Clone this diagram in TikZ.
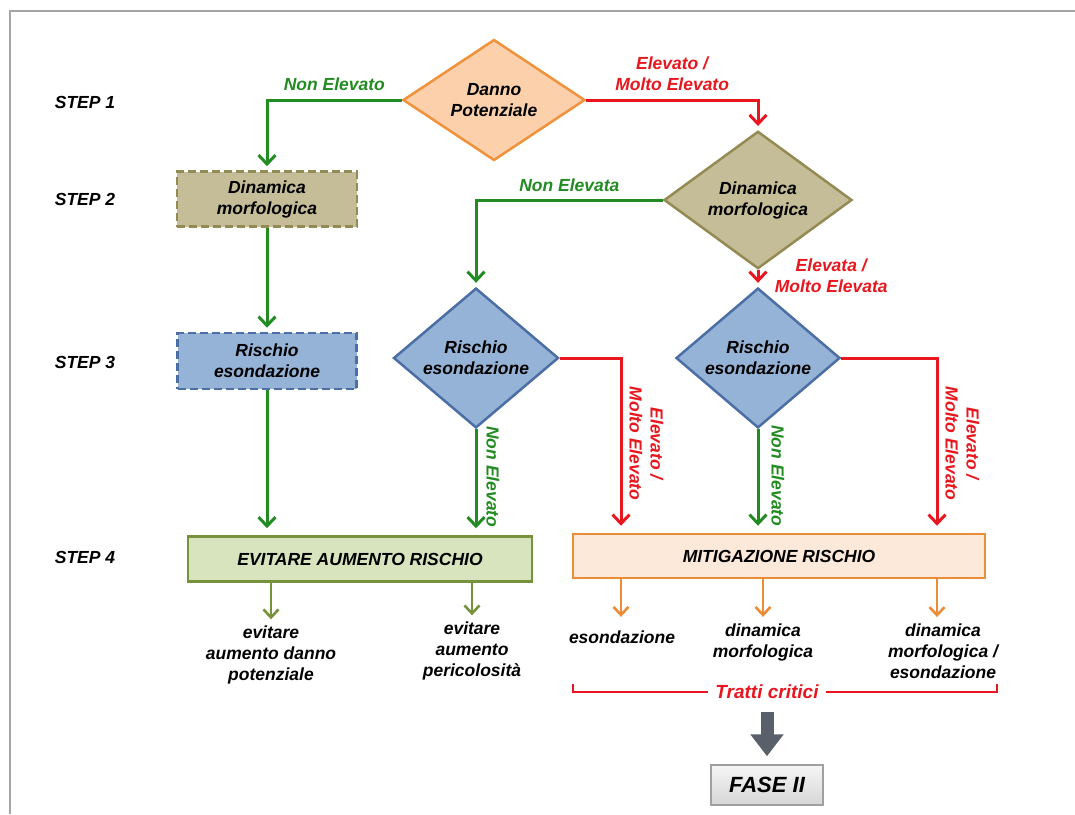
\documentclass[tikz,border=0pt]{standalone}
\usepackage{fontspec}
\setmainfont{Liberation Sans}
\usetikzlibrary{shapes.geometric,arrows.meta}
\definecolor{noColor}{RGB}{34,139,34}
\definecolor{yesColor}{RGB}{232,22,30}
\definecolor{dannoFill}{RGB}{251,208,170}
\definecolor{dannoLine}{RGB}{240,145,60}
\definecolor{dinFill}{RGB}{196,189,151}
\definecolor{dinLine}{RGB}{148,138,84}
\definecolor{risFill}{RGB}{149,179,215}
\definecolor{risLine}{RGB}{75,110,165}
\definecolor{evitFill}{RGB}{215,228,189}
\definecolor{evitLine}{RGB}{118,146,60}
\definecolor{mitFill}{RGB}{253,233,217}
\definecolor{mitLine}{RGB}{235,140,55}
\definecolor{faseLine}{RGB}{160,160,160}
\definecolor{bigArrowColor}{RGB}{90,96,106}
\definecolor{frameColor}{RGB}{165,165,165}

\begin{document}
\begin{tikzpicture}[x=1pt, y=-1pt,
  every node/.style={font=\fontsize{17.5}{21}\selectfont\bfseries\itshape, align=center},
  decision/.style={diamond, draw, line width=2.5pt, inner sep=0pt},
  box/.style={rectangle, draw, line width=2.5pt},
  dashbox/.style={box, dash pattern=on 8pt off 4pt},
  linkNo/.style={draw=noColor, line width=3pt, shorten >=4pt,
    -{Straight Barb[length=9pt,width=17pt]}},
  linkYes/.style={linkNo, draw=yesColor},
  labNo/.style={text=noColor},
  labYes/.style={text=yesColor},
  outArrow/.style={line width=2.6pt, shorten >=3pt,
    -{Straight Barb[length=8pt,width=15pt]}},
  bracket/.style={draw=yesColor, line width=2.5pt},
  bigArrow/.style={draw=bigArrowColor, line width=13pt, shorten <=9pt, shorten >=8pt,
    -{Triangle[length=22pt,width=32pt]}},
]

  % --- frame and margins ---
  \useasboundingbox (0,0) rectangle (1075,814);
  \draw[frameColor, line width=1.5pt] (10,814) -- (10,11) -- (1075,11);

  % --- step labels ---
  \foreach \n/\y in {1/102,2/199,3/362,4/557}
    \node (step\n) at (85,\y) {STEP \n};

  % --- decisions and boxes ---
  \node[decision, fill=dannoFill, draw=dannoLine, minimum width=182pt, minimum height=121pt]
    (danno) at (494,100) {Danno\\Potenziale};
  \node[dashbox, fill=dinFill, draw=dinLine, minimum width=180pt, minimum height=55pt]
    (dinL) at (267,199) {Dinamica\\morfologica};
  \node[decision, fill=dinFill, draw=dinLine, minimum width=188pt, minimum height=119pt]
    (dinR) at (758,200) {Dinamica\\morfologica};
  \node[dashbox, fill=risFill, draw=risLine, minimum width=179pt, minimum height=56pt]
    (risL) at (267,361) {Rischio\\esondazione};
  \node[decision, fill=risFill, draw=risLine, minimum width=165pt, minimum height=110pt]
    (risC) at (476,358) {Rischio\\esondazione};
  \node[decision, fill=risFill, draw=risLine, minimum width=164pt, minimum height=111pt]
    (risR) at (758,358) {Rischio\\esondazione};
  \node[box, fill=evitFill, draw=evitLine, minimum width=344pt, minimum height=45pt]
    (evitare) at (360,559) {EVITARE AUMENTO RISCHIO};
  \node[box, fill=mitFill, draw=mitLine, minimum width=412pt, minimum height=44pt]
    (mitig) at (779,556) {MITIGAZIONE RISCHIO};

  % --- outcomes ---
  \node (outA) at (271,655) {evitare\\aumento danno\\potenziale};
  \node (outB) at (472,651) {evitare\\aumento\\pericolosità};
  \node (outC) at (622,637) {esondazione};
  \node (outD) at (763,642) {dinamica\\morfologica};
  \node (outE) at (943,651) {dinamica\\morfologica /\\esondazione};
  \node[text=yesColor, font=\fontsize{19}{23}\selectfont\bfseries\itshape, inner xsep=7pt]
    (tratti) at (767,692) {Tratti critici};
  \node[box, line width=1.5pt, draw=faseLine, top color=gray!8, bottom color=gray!32,
    minimum width=112pt, minimum height=40pt,
    font=\fontsize{22}{26}\selectfont\bfseries\itshape] (fase) at (767,785) {FASE II};

  \coordinate (colA) at (621,0);
  \coordinate (colB) at (937,0);
  \coordinate (brL) at (573,684);
  \coordinate (brR) at (997,684);

  % --- step 1 and 2 ---
  \draw[linkNo] (danno.west) -| node[pos=0.25, above=4pt, labNo] {Non Elevato} (dinL.north);
  \draw[linkYes] (danno.east) -| node[pos=0.25, above=4pt, labYes] {Elevato /\\Molto Elevato} (dinR.north);
  \draw[linkNo] (dinR.west) -| node[pos=0.25, above=4pt, labNo] {Non Elevata} (risC.north);
  \draw[linkYes] (dinR.south) -- node[pos=0.35, right=12pt, labYes] {Elevata /\\Molto Elevata} (risR.north);
  \draw[linkNo] (dinL.south) -- (risL.north);

  % --- step 3 ---
  \draw[linkNo, shorten >=7pt] (risL.south) -- (risL.south |- evitare.north);
  \draw[linkNo, shorten >=7pt] (risC.south) -- node[pos=0.45, rotate=-90, anchor=south, inner ysep=9pt, labNo] {Non Elevato} (risC.south |- evitare.north);
  \draw[linkYes, shorten >=7pt] (risC.east) -| node[pos=0.745, rotate=-90, anchor=south, inner ysep=7pt, labYes] {Elevato /\\Molto Elevato} (colA |- mitig.north);
  \draw[linkNo, shorten >=7pt] (risR.south) -- node[pos=0.45, rotate=-90, anchor=south, inner ysep=12pt, labNo] {Non Elevato} (risR.south |- mitig.north);
  \draw[linkYes, shorten >=7pt] (risR.east) -| node[pos=0.745, rotate=-90, anchor=south, inner ysep=7pt, labYes] {Elevato /\\Molto Elevato} (colB |- mitig.north);

  % --- step 4 ---
  \draw[outArrow, evitLine] (evitare.south -| outA) -- (outA.north);
  \draw[outArrow, evitLine] (evitare.south -| outB) -- (outB.north);
  \draw[outArrow, mitLine] (colA |- mitig.south) -- (colA |- outD.north);
  \draw[outArrow, mitLine] (mitig.south -| outD) -- (outD.north);
  \draw[outArrow, mitLine] (colB |- mitig.south) -- (colB |- outE.north);

  \draw[bracket] (brL) |- (tratti.west);
  \draw[bracket] (tratti.east) -| (brR);
  \draw[bigArrow] (tratti.south) -- (fase.north);

\end{tikzpicture}
\end{document}
